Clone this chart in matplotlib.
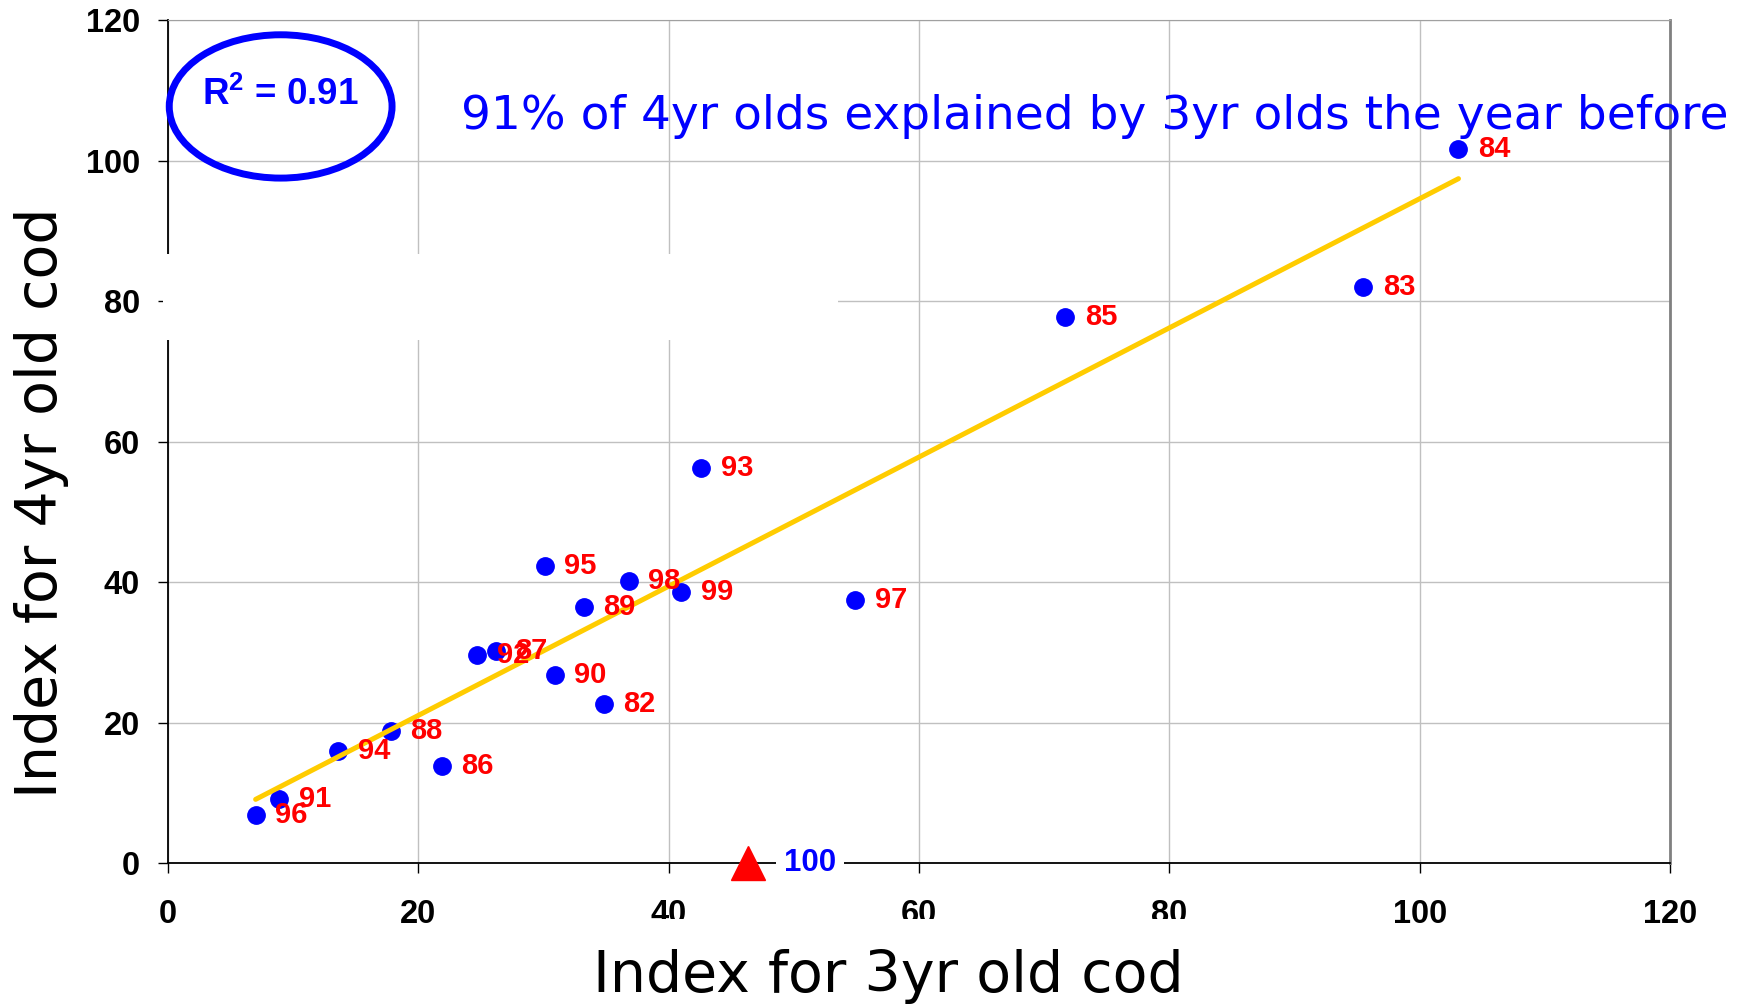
import numpy as np
import matplotlib
matplotlib.use("Agg")
import matplotlib.pyplot as plt
from matplotlib.patches import Ellipse, Rectangle

plt.rcParams['mathtext.fontset'] = 'custom'
plt.rcParams['mathtext.rm'] = 'Liberation Sans'
plt.rcParams['mathtext.bf'] = 'Liberation Sans:bold'

# index for 3yr olds (x) and 4yr olds the year after (y), labelled by year
years = ["84", "83", "85", "93", "95", "98", "99", "97", "89",
         "92", "87", "90", "82", "88", "94", "86", "91", "96"]
idx3 = [103.1, 95.5, 71.7, 42.6, 30.1, 36.8, 41.0, 54.9, 33.2,
        24.7, 26.2, 30.9, 34.8, 17.8, 13.6, 21.9, 8.9, 7.0]
idx4 = [101.6, 82.0, 77.7, 56.3, 42.3, 40.1, 38.6, 37.5, 36.4,
        29.6, 30.2, 26.7, 22.6, 18.8, 15.9, 13.8, 9.1, 6.8]

# prediction for 2000 from the 3yr index of 1999
pred_x = [46.3]
pred_y = [0]
pred_label = "100"

ticks = [0, 20, 40, 60, 80, 100, 120]

fig = plt.figure(figsize=(17.5, 10.06), dpi=100)
ax = fig.add_axes([0.096, 0.1421, 0.8583, 0.838])

ax.set_xlim(0, 120)
ax.set_ylim(0, 120)
ax.set_xticks(ticks)
ax.set_yticks(ticks)
ax.grid(True, color='#c0c0c0', lw=1)
ax.set_axisbelow(True)
for lab in ax.get_xticklabels() + ax.get_yticklabels():
    lab.set_family('Liberation Sans')
    lab.set_weight('bold')
    lab.set_fontsize(23.5)
ax.tick_params(axis='y', direction='out', length=7, width=1, pad=13)
ax.tick_params(axis='x', direction='out', length=7, width=1, pad=19)
ax.spines['left'].set_color('black')
ax.spines['bottom'].set_color('black')
ax.spines['left'].set_linewidth(1.3)
ax.spines['bottom'].set_linewidth(1.3)
ax.spines['top'].set_color('#a0a0a0')
ax.spines['right'].set_color('#808080')
ax.spines['right'].set_linewidth(2)

ax.plot(idx3, idx4, 'o', color='#0000ff', ms=12.5, zorder=3)

# linear trendline (least squares)
b, a = np.polyfit(idx3, idx4, 1)
tx = np.array([min(idx3), max(idx3)])
ax.plot(tx, a + b * tx, color='#ffcc00', lw=3.6, solid_capstyle='round', zorder=4)

for x, y, t in zip(idx3, idx4, years):
    ax.annotate(t, (x, y), xytext=(14, 0), textcoords='offset points',
                va='center', ha='left', color='#ff0000', fontsize=21,
                family='Liberation Sans', weight='bold', zorder=5)

ax.plot(pred_x, pred_y, '^', color='#ff0000', ms=24, clip_on=False, zorder=6)
ax.annotate(pred_label, (pred_x[0], pred_y[0]), xytext=(26, 0), textcoords='offset points',
            va='center', ha='left', color='#0000ff', fontsize=22.5,
            family='Liberation Sans', weight='bold', zorder=6, annotation_clip=False,
            bbox=dict(boxstyle='square,pad=0.25', fc='white', ec='none'))

ax.add_patch(Ellipse((9.0, 107.7), 17.8, 20.4, fill=False, ec='#0000ff', lw=5,
                     clip_on=False, zorder=6))
ax.text(9.0, 109.4, r'$\mathbf{R^{2}}$ = 0.91', ha='center', va='center',
        color='#0000ff', fontsize=26.5, family='Liberation Sans', weight='bold', zorder=7)

# white blocks left over in the original slide
fig.patches.append(Rectangle((0.0931, 0.662), 0.386, 0.0855, transform=fig.transFigure,
                             fc='white', ec='none', zorder=5))
fig.patches.append(Rectangle((0.32, 0.0), 0.377, 0.0865, transform=fig.transFigure,
                             fc='white', ec='none', zorder=5))

fig.text(0.2634, 0.872, "91% of 4yr olds explained by 3yr olds the year before",
         color='#0000ff', fontsize=33.8, va='baseline', ha='left', zorder=8)
fig.text(0.5077, 0.0139, "Index for 3yr old cod", fontsize=41, va='baseline',
         ha='center', zorder=8)
fig.text(0.024, 0.5, "Index for 4yr old cod", fontsize=41, rotation=90,
         va='center', ha='center', zorder=8)

fig.savefig("out.png", dpi=100)
